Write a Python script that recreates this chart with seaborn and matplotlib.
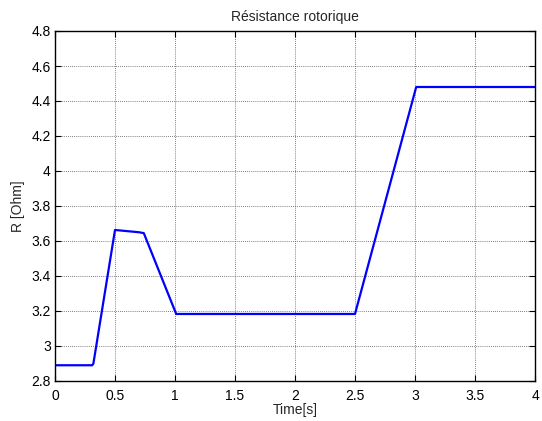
import matplotlib
matplotlib.use("Agg")
import matplotlib.pyplot as plt
import seaborn as sns
import pandas as pd

# Rotor resistance estimate over time (breakpoints of the piecewise profile)
time_s = [0.0, 0.31, 0.32, 0.50, 0.70, 0.74, 1.01, 2.50, 3.01, 4.0]
resistance_ohm = [2.89, 2.89, 2.90, 3.663, 3.65, 3.645, 3.183, 3.183, 4.48, 4.48]

x_ticks = [0, 0.5, 1, 1.5, 2, 2.5, 3, 3.5, 4]
y_ticks = [2.8, 3.0, 3.2, 3.4, 3.6, 3.8, 4.0, 4.2, 4.4, 4.6, 4.8]
y_labels = ["2.8", "3", "3.2", "3.4", "3.6", "3.8", "4", "4.2", "4.4", "4.6", "4.8"]

df = pd.DataFrame({"t": time_s, "R": resistance_ohm})

sns.set_style("white")
plt.rcParams["font.family"] = ["Liberation Sans", "DejaVu Sans"]

fig = plt.figure(figsize=(5.42, 4.21), dpi=100)
ax = fig.add_axes([55 / 542, 40 / 421, 480 / 542, 350 / 421])

sns.lineplot(data=df, x="t", y="R", ax=ax, color="#0000ff", linewidth=1.6,
             sort=False, estimator=None)

ax.set_xlim(0, 4)
ax.set_ylim(2.8, 4.8)
ax.set_xticks(x_ticks)
ax.set_xticklabels([f"{v:g}" for v in x_ticks])
ax.set_yticks(y_ticks)
ax.set_yticklabels(y_labels)

ax.grid(True, color="#555555", linestyle=(0, (1, 1.5)), linewidth=0.6)
ax.set_axisbelow(True)

for side in ["top", "right", "bottom", "left"]:
    ax.spines[side].set_visible(True)
    ax.spines[side].set_color("black")
    ax.spines[side].set_linewidth(1.0)

ax.tick_params(direction="in", length=4, width=0.8, labelsize=10,
               top=True, right=True, bottom=True, left=True, pad=3,
               colors="black")
ax.tick_params(axis="x", pad=6)

ax.set_xlabel("Time[s]", fontsize=10, labelpad=0)
ax.set_ylabel("R [Ohm]", fontsize=10, labelpad=5)
ax.set_title("Résistance rotorique", fontsize=10, pad=7)

fig.savefig("out.png", dpi=100)
